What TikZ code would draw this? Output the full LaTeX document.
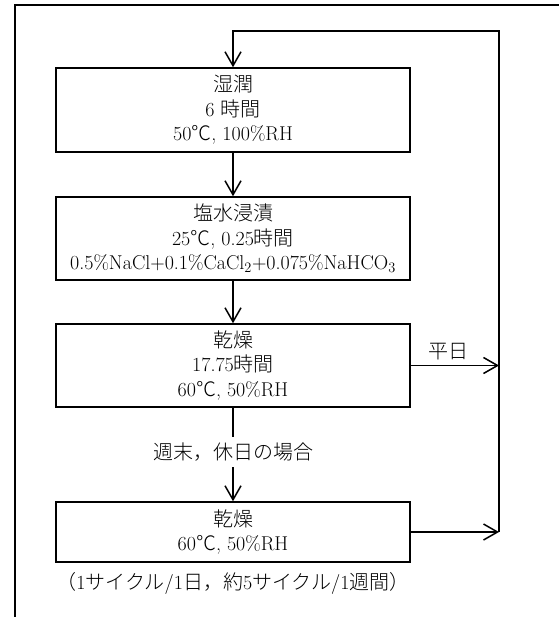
\documentclass[tikz,border=0pt]{standalone}
\usepackage{fontspec}
\newfontfamily\jp{Noto Sans CJK JP Light}
\usetikzlibrary{arrows.meta}
\tikzset{
  box/.style={draw, line width=1.5pt, minimum width=354pt, align=center, inner sep=0pt,
    font=\fontsize{20}{24.5}\selectfont},
  lbl/.style={inner sep=0pt, align=center, font=\fontsize{20}{24.5}\selectfont},
  arr/.style={line width=1.5pt, -{Straight Barb[length=14pt,width=16pt,line width=1.5pt]}},
  ln/.style={line width=1.5pt}
}
\begin{document}
\begin{tikzpicture}[x=1pt,y=-1pt]
\useasboundingbox (0,0) rectangle (558,617);
% outer frame
\draw[line width=1.5pt] (15,620) -- (15,5) -- (562,5);
% boxes
\node[box, minimum height=84pt] (b1) at (233,110) {{\jp 湿潤}\\6 {\jp 時間}\\50{\jp ℃}, 100\%RH};
\node[box, minimum height=83pt] (b2) at (233,238.5) {{\jp 塩水浸漬}\\25{\jp ℃}, 0.25{\jp 時間}\\0.5\%NaCl+0.1\%CaCl$_2$+0.075\%NaHCO$_3$};
\node[box, minimum height=83pt] (b3) at (233,365.5) {{\jp 乾燥}\\17.75{\jp 時間}\\60{\jp ℃}, 50\%RH};
\node[box, minimum height=60pt] (b4) at (233,532) {{\jp 乾燥}\\60{\jp ℃}, 50\%RH};
% labels
\node[lbl, minimum height=30pt] (wk) at (233,452) {{\jp 週末，休日の場合}};
\node[lbl] (hd) at (448,352) {{\jp 平日}};
\node[lbl] (note) at (233,583) {{\jp （}1{\jp サイクル}/1{\jp 日，約}5{\jp サイクル}/1{\jp 週間）}};
% coordinates
\coordinate (r1) at (499,365.5);
\coordinate (r2) at (499,532);
\coordinate (tr) at (499,31);
\coordinate (tl) at (233,31);
% connectors
\draw[arr] (b1) -- (b2);
\draw[arr] (b2) -- (b3);
\draw[ln] (b3) -- (wk);
\draw[arr] (wk) -- (b4);
\draw[arr] (b3.east) -- (r1);
\draw[arr] (b4.east) -- (r2);
\draw[arr] (r2) -- (tr) -- (tl) -- (b1);
\end{tikzpicture}
\end{document}
